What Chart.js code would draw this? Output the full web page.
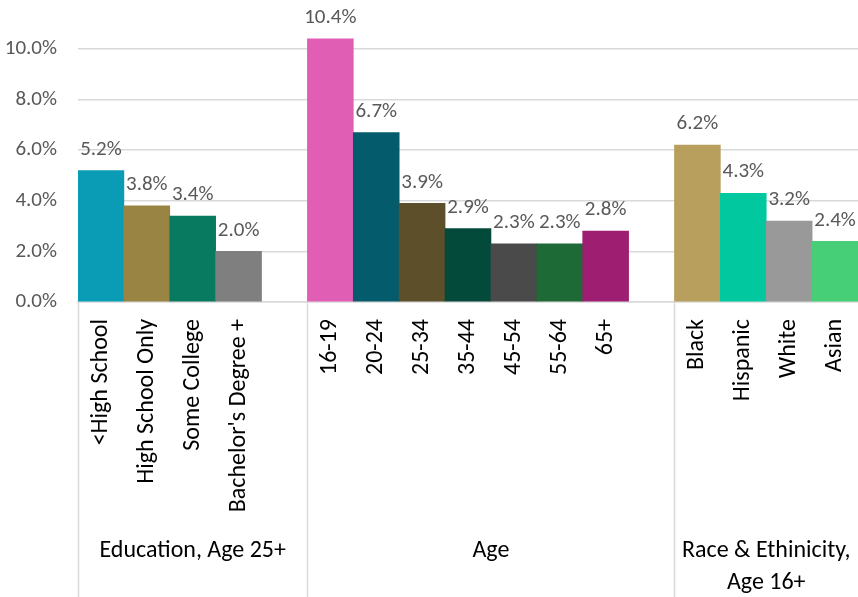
<!DOCTYPE html>
<html>
<head>
<meta charset="utf-8">
<script src="https://cdn.jsdelivr.net/npm/chart.js@4"></script>
<style>
  html, body { margin: 0; padding: 0; background: #fff; }
  #wrap { width: 858px; height: 597px; }
</style>
</head>
<body>
<div id="wrap"><canvas id="chart"></canvas></div>
<script>
// categories ('' = spacer slot between groups)
const categories = ['<High School', 'High School Only', 'Some College', "Bachelor's Degree +", '',
    '16-19', '20-24', '25-34', '35-44', '45-54', '55-64', '65+', '',
    'Black', 'Hispanic', 'White', 'Asian'];
const values = [5.2, 3.8, 3.4, 2.0, null,
    10.4, 6.7, 3.9, 2.9, 2.3, 2.3, 2.8, null,
    6.2, 4.3, 3.2, 2.4];
const barColors = ['#0a9bb5', '#9a8443', '#087a5f', '#7f7f7f', '#ffffff',
    '#e05eb4', '#045b6b', '#5c4f2a', '#034a3a', '#4a4a4a', '#1e6a37', '#9e1e72', '#ffffff',
    '#b89f5e', '#01c89f', '#999999', '#47cf77'];
const groupNames = [['Education, Age 25+'], ['Age'], ['Race & Ethinicity,', 'Age 16+']];
const groupFirst = [0, 5, 13];   // first category index of each group
const groupLast = [4, 12, 16];   // last category index (incl. spacer)
const yTicks = [0, 2, 4, 6, 8, 10];

const FONT = 'Calibri, Carlito, Lato, sans-serif';
const GRID = '#d9d9d9';

const ctx = document.getElementById('chart').getContext('2d');

const barLabels = {
    id: 'barLabels',
    afterDatasetsDraw(chart) {
        const c = chart.ctx;
        const meta = chart.getDatasetMeta(0);
        c.save();
        c.font = '21px ' + FONT;
        c.fillStyle = '#595959';
        c.textAlign = 'center';
        c.textBaseline = 'middle';
        meta.data.forEach((bar, i) => {
            if (values[i] == null) return;
            c.fillText(values[i].toFixed(1) + '%', bar.x, bar.y - 21);
        });
        c.restore();
    }
};

const groupAxis = {
    id: 'groupAxis',
    afterDraw(chart) {
        const c = chart.ctx;
        const x = chart.scales.x;
        const area = chart.chartArea;
        const half = (x.getPixelForValue(1) - x.getPixelForValue(0)) / 2;
        c.save();
        c.strokeStyle = GRID;
        c.lineWidth = 1.5;
        groupFirst.forEach((first) => {
            const px = Math.round(x.getPixelForValue(first) - half) + 0.5;
            c.beginPath();
            c.moveTo(px, area.bottom);
            c.lineTo(px, chart.height);
            c.stroke();
        });
        c.font = '24px ' + FONT;
        c.fillStyle = '#000';
        c.textAlign = 'center';
        c.textBaseline = 'middle';
        groupNames.forEach((lines, g) => {
            const left = x.getPixelForValue(groupFirst[g]) - half;
            const right = x.getPixelForValue(groupLast[g]) + half;
            const cx = (left + right) / 2;
            lines.forEach((t, k) => c.fillText(t, cx, 551 + k * 32));
        });
        c.restore();
    }
};

new Chart(ctx, {
    type: 'bar',
    data: {
        labels: categories,
        datasets: [{
            data: values,
            backgroundColor: barColors,
            barPercentage: 1,
            categoryPercentage: 1,
            borderWidth: 0
        }]
    },
    options: {
        responsive: true,
        maintainAspectRatio: false,
        animation: false,
        layout: { padding: 0 },
        plugins: {
            legend: { display: false },
            tooltip: { enabled: false }
        },
        scales: {
            x: {
                grid: { display: false, drawTicks: false },
                border: { display: true, color: GRID, width: 1.5 },
                ticks: {
                    autoSkip: false,
                    minRotation: 90,
                    maxRotation: 90,
                    padding: 17,
                    color: '#000',
                    font: { family: FONT, size: 24 }
                },
                afterFit: (scale) => {
                    scale.height = 295;
                    scale.paddingLeft = 0;
                    scale.paddingRight = 0;
                }
            },
            y: {
                min: 0,
                max: 11.94,
                grid: { color: GRID, lineWidth: 1.5, drawTicks: false },
                border: { display: false },
                afterBuildTicks: (scale) => {
                    scale.ticks = yTicks.map((v) => ({ value: v }));
                },
                ticks: {
                    padding: 21,
                    color: '#595959',
                    font: { family: FONT, size: 21 },
                    callback: (v) => v.toFixed(1) + '%'
                },
                afterFit: (scale) => {
                    scale.width = 78;
                    scale.paddingTop = 0;
                    scale.paddingBottom = 0;
                }
            }
        }
    },
    plugins: [barLabels, groupAxis]
});
</script>
</body>
</html>
